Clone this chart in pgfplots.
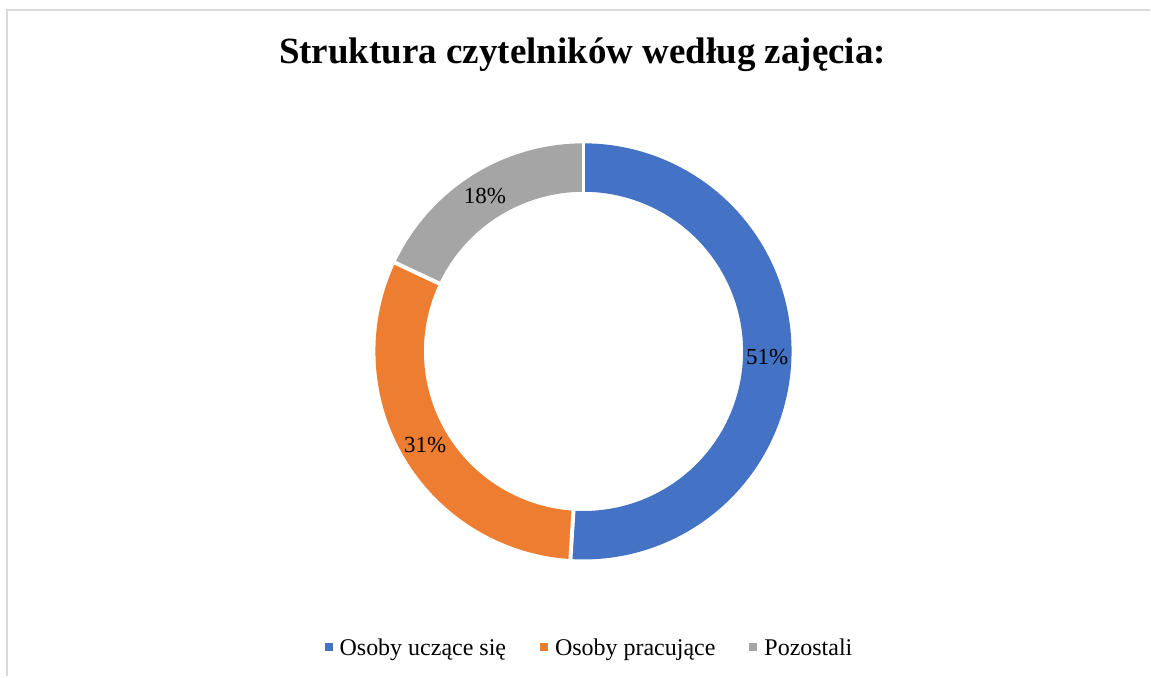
\documentclass[border=0pt]{standalone}
\usepackage{pgfplots}
\pgfplotsset{compat=1.18}
\usepackage{pgfplotstable}
\usepackage{fontspec}
\setmainfont{Liberation Serif}
\definecolor{cBlue}{HTML}{4472C4}
\definecolor{cOrange}{HTML}{ED7D31}
\definecolor{cGray}{HTML}{A5A5A5}
\definecolor{cFrame}{HTML}{D9D9D9}

\pgfplotstableread{
name value
A 51
B 31
C 18
}\donutdata

\begin{document}
\begin{tikzpicture}
\pgfplotstablegetelem{0}{value}\of\donutdata \let\vA\pgfplotsretval
\pgfplotstablegetelem{1}{value}\of\donutdata \let\vB\pgfplotsretval
\pgfplotstablegetelem{2}{value}\of\donutdata \let\vC\pgfplotsretval
\pgfmathsetmacro\aA{90}
\pgfmathsetmacro\aB{\aA-3.6*\vA}
\pgfmathsetmacro\aC{\aB-3.6*\vB}
\pgfmathsetmacro\aD{\aC-3.6*\vC}
\pgfmathsetmacro\mA{(\aA+\aB)/2}
\pgfmathsetmacro\mB{(\aB+\aC)/2}
\pgfmathsetmacro\mC{(\aC+\aD)/2}
\def\cx{584}
\def\cy{325.3}
\def\rmid{184}
\begin{axis}[
  width=1151pt, height=677pt, scale only axis,
  xmin=0, xmax=1151, ymin=0, ymax=677,
  hide axis, clip=false,
  legend columns=3,
  legend cell align=left,
  legend image code/.code={\fill[#1, draw=none, line width=0pt] (0pt,-4pt) rectangle (8pt,4pt); \path[draw=none, fill=none, line width=0pt] (0pt,0pt) -- (13pt,0pt);},
  legend style={draw=none, fill=none, at={(axis cs:590,29)}, anchor=center,
    font=\fontsize{24}{28}\selectfont,
    /tikz/every even column/.append style={column sep=32pt}},
]
\path (axis cs:0,0) rectangle (axis cs:1151,677);
\draw[cFrame, line width=2pt] (axis cs:7,0) -- (axis cs:7,666.5) -- (axis cs:1151,666.5);

\addplot[cBlue, line width=48.5pt, domain=\aB:\aA, samples=150] ({\cx+\rmid*cos(x)},{\cy+\rmid*sin(x)});
\addlegendentry{Osoby uczące się}
\addplot[cOrange, line width=48.5pt, domain=\aC:\aB, samples=100] ({\cx+\rmid*cos(x)},{\cy+\rmid*sin(x)});
\addlegendentry{Osoby pracujące}
\addplot[cGray, line width=48.5pt, domain=\aD:\aC, samples=60] ({\cx+\rmid*cos(x)},{\cy+\rmid*sin(x)});
\addlegendentry{Pozostali}

\draw[white, line width=4pt] (axis cs:{\cx+150*cos(\aA)},{\cy+150*sin(\aA)}) -- (axis cs:{\cx+218*cos(\aA)},{\cy+218*sin(\aA)});
\draw[white, line width=4pt] (axis cs:{\cx+150*cos(\aB)},{\cy+150*sin(\aB)}) -- (axis cs:{\cx+218*cos(\aB)},{\cy+218*sin(\aB)});
\draw[white, line width=4pt] (axis cs:{\cx+150*cos(\aC)},{\cy+150*sin(\aC)}) -- (axis cs:{\cx+218*cos(\aC)},{\cy+218*sin(\aC)});

\node[font=\fontsize{23}{27}\selectfont] at (axis cs:{\cx+\rmid*cos(\mA)},{\cy+\rmid*sin(\mA)}) {\vA\%};
\node[font=\fontsize{23}{27}\selectfont] at (axis cs:{\cx+\rmid*cos(\mB)},{\cy+\rmid*sin(\mB)}) {\vB\%};
\node[font=\fontsize{23}{27}\selectfont] at (axis cs:{\cx+\rmid*cos(\mC)},{\cy+\rmid*sin(\mC)}) {\vC\%};

\node[anchor=base, font=\fontsize{37}{44}\selectfont\bfseries] at (axis cs:583,613) {Struktura czytelników według zajęcia:};
\end{axis}
\end{tikzpicture}
\end{document}
